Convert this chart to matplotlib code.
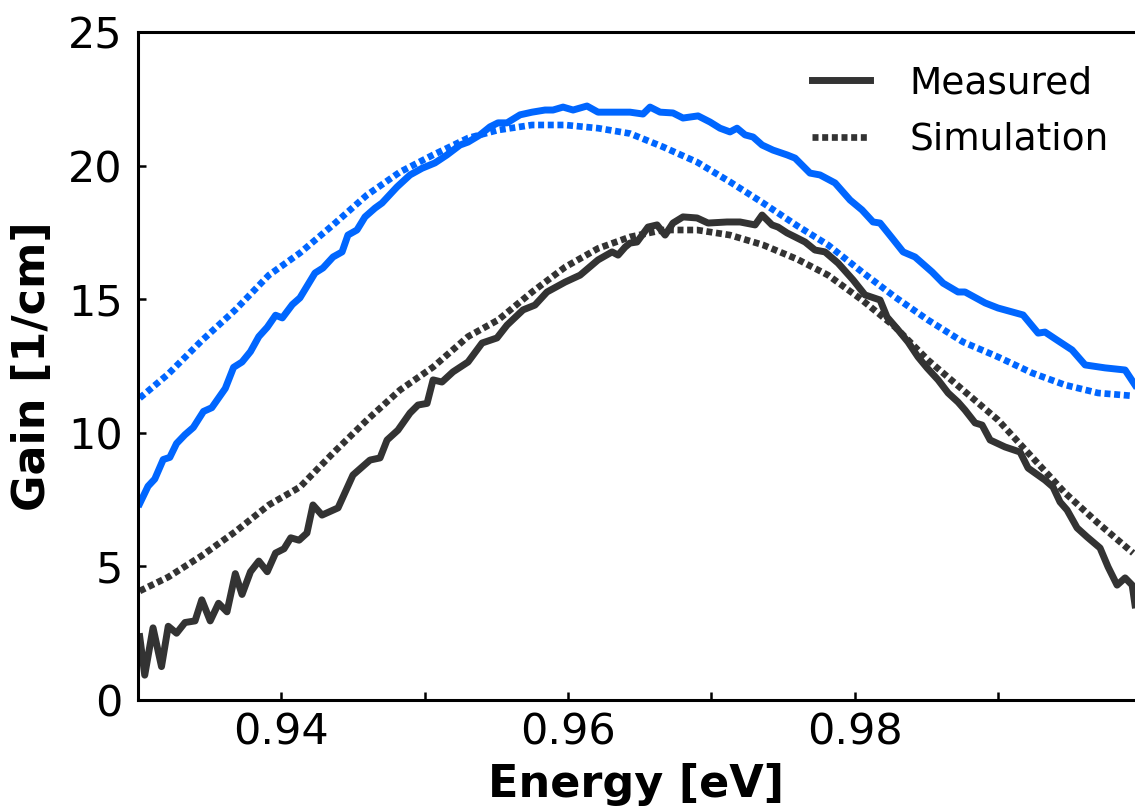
import matplotlib
matplotlib.use("Agg")
import matplotlib.pyplot as plt
from matplotlib.ticker import MultipleLocator

# colours
blue = "#0066ff"
dark = "#333333"

# measured gain, upper (blue) curve
e_meas_blue = [0.93012, 0.93070, 0.93117, 0.93176, 0.93222, 0.93269, 0.93328, 0.93386, 0.93457, 0.93515,
               0.93609, 0.93667, 0.93726, 0.93785, 0.93843, 0.93902, 0.93960, 0.94007, 0.94077, 0.94130,
               0.94235, 0.94291, 0.94361, 0.94424, 0.94465, 0.94528, 0.94584, 0.94654, 0.94703, 0.94807,
               0.94898, 0.94982, 0.95072, 0.95156, 0.95247, 0.95303, 0.95387, 0.95456, 0.95512, 0.95575,
               0.95666, 0.95750, 0.95840, 0.95896, 0.95966, 0.96036, 0.96133, 0.96210, 0.96329, 0.96433,
               0.96524, 0.96573, 0.96643, 0.96733, 0.96803, 0.96908, 0.96992, 0.97061, 0.97131, 0.97180,
               0.97236, 0.97292, 0.97355, 0.97431, 0.97529, 0.97585, 0.97689, 0.97759, 0.97864, 0.97969,
               0.98052, 0.98129, 0.98178, 0.98262, 0.98339, 0.98422, 0.98541, 0.98618, 0.98722, 0.98771,
               0.98911, 0.99001, 0.99176, 0.99281, 0.99329, 0.99413, 0.99518, 0.99609, 0.99748, 0.99888,
               0.99957]
g_meas_blue = [7.35, 8.0, 8.27, 9.0, 9.08, 9.6, 9.93, 10.2, 10.8, 10.94,
               11.66, 12.45, 12.65, 13.04, 13.6, 13.95, 14.4, 14.3, 14.8, 15.05,
               15.98, 16.17, 16.58, 16.77, 17.4, 17.59, 18.08, 18.41, 18.6, 19.2,
               19.65, 19.9, 20.1, 20.4, 20.77, 20.88, 21.15, 21.45, 21.6, 21.6,
               21.9, 22.0, 22.08, 22.08, 22.19, 22.08, 22.23, 22.0, 22.0, 22.0,
               21.93, 22.19, 22.0, 21.97, 21.78, 21.86, 21.63, 21.4, 21.26, 21.4,
               21.15, 21.07, 20.77, 20.58, 20.4, 20.28, 19.72, 19.65, 19.35, 18.71,
               18.34, 17.89, 17.85, 17.29, 16.77, 16.58, 16.02, 15.6, 15.27, 15.27,
               14.86, 14.67, 14.41, 13.73, 13.77, 13.47, 13.1, 12.54, 12.43, 12.35,
               11.79]

# measured gain, lower (dark) curve
e_meas_dark = [0.93012, 0.93047, 0.93105, 0.93164, 0.93211, 0.93269, 0.93328, 0.93398, 0.93445, 0.93504,
               0.93562, 0.93621, 0.93679, 0.93726, 0.93785, 0.93843, 0.93902, 0.93960, 0.94019, 0.94066,
               0.94124, 0.94179, 0.94221, 0.94284, 0.94396, 0.94500, 0.94619, 0.94689, 0.94738, 0.94814,
               0.94898, 0.94954, 0.95017, 0.95059, 0.95121, 0.95198, 0.95303, 0.95401, 0.95505, 0.95575,
               0.95687, 0.95770, 0.95854, 0.95980, 0.96085, 0.96210, 0.96308, 0.96350, 0.96399, 0.96433,
               0.96482, 0.96559, 0.96622, 0.96678, 0.96733, 0.96803, 0.96901, 0.96978, 0.97110, 0.97201,
               0.97306, 0.97355, 0.97424, 0.97466, 0.97529, 0.97585, 0.97655, 0.97724, 0.97794, 0.97885,
               0.97990, 0.98073, 0.98178, 0.98227, 0.98304, 0.98373, 0.98443, 0.98506, 0.98583, 0.98653,
               0.98722, 0.98771, 0.98841, 0.98890, 0.98946, 0.99050, 0.99155, 0.99211, 0.99329, 0.99385,
               0.99434, 0.99483, 0.99553, 0.99623, 0.99713, 0.99769, 0.99832, 0.99888, 0.99937, 0.99957]
g_meas_dark = [2.37, 0.93, 2.7, 1.25, 2.76, 2.5, 2.9, 2.96, 3.75, 2.96,
               3.62, 3.3, 4.73, 3.95, 4.8, 5.2, 4.8, 5.5, 5.66, 6.07,
               5.98, 6.25, 7.3, 6.92, 7.19, 8.42, 8.98, 9.06, 9.73, 10.1,
               10.74, 11.04, 11.1, 11.98, 11.9, 12.28, 12.65, 13.36, 13.55, 14.03,
               14.6, 14.78, 15.27, 15.64, 15.9, 16.47, 16.77, 16.65, 16.95, 17.1,
               17.14, 17.7, 17.78, 17.4, 17.85, 18.08, 18.04, 17.85, 17.89, 17.89,
               17.78, 18.15, 17.78, 17.7, 17.48, 17.33, 17.14, 16.84, 16.77, 16.35,
               15.72, 15.16, 14.97, 14.33, 13.85, 13.4, 12.84, 12.43, 11.98, 11.49,
               11.15, 10.85, 10.37, 10.29, 9.73, 9.47, 9.28, 8.68, 8.23, 7.97,
               7.41, 7.11, 6.44, 6.1, 5.69, 4.98, 4.3, 4.57, 4.3, 3.56]

# simulated gain
e_sim = [0.93012, 0.93211, 0.93445, 0.93679, 0.93913, 0.94130, 0.94361, 0.94598, 0.94828, 0.95059,
         0.95303, 0.95512, 0.95750, 0.95980, 0.96210, 0.96433, 0.96664, 0.96901, 0.97131, 0.97362,
         0.97599, 0.97815, 0.98052, 0.98283, 0.98513, 0.98757, 0.99001, 0.99239, 0.99469, 0.99699,
         0.99944]
g_sim_blue = [11.3, 12.2, 13.45, 14.6, 15.9, 16.73, 17.78, 18.9, 19.76, 20.4,
              21.03, 21.33, 21.52, 21.52, 21.4, 21.2, 20.7, 20.13, 19.39, 18.6,
              17.75, 17.03, 16.02, 15.08, 14.22, 13.4, 12.84, 12.24, 11.79, 11.49,
              11.38]
g_sim_dark = [4.08, 4.6, 5.4, 6.3, 7.3, 7.97, 9.24, 10.48, 11.6, 12.46,
              13.6, 14.22, 15.27, 16.2, 16.9, 17.33, 17.59, 17.59, 17.4, 17.03,
              16.5, 15.9, 14.97, 13.96, 12.72, 11.6, 10.48, 9.09, 7.75, 6.62,
              5.5]

plt.rcParams['font.family'] = 'DejaVu Sans'

fig = plt.figure(figsize=(11.35, 8.1), dpi=100)
ax = fig.add_axes([138 / 1135, 110 / 810, 997 / 1135, 668 / 810])

dots = (0, (0.9, 0.55))
ax.plot(e_meas_blue, g_meas_blue, color=blue, lw=5.0, solid_joinstyle='round')
ax.plot(e_sim, g_sim_blue, color=blue, lw=4.8, linestyle=dots)
ax.plot(e_meas_dark, g_meas_dark, color=dark, lw=5.0, solid_joinstyle='round', label='Measured')
ax.plot(e_sim, g_sim_dark, color=dark, lw=4.8, linestyle=dots, label='Simulation')

ax.set_xlim(0.93, 0.99957)
ax.set_ylim(0, 25)
ax.xaxis.set_minor_locator(MultipleLocator(0.01))
ax.yaxis.set_major_locator(MultipleLocator(5))
ax.set_xticks([0.94, 0.96, 0.98])
ax.set_xticklabels(['0.94', '0.96', '0.98'])
ax.tick_params(which='both', direction='in', length=6, width=1.8, labelsize=31,
               top=False, right=False)
ax.tick_params(axis='x', pad=8)
ax.tick_params(axis='y', pad=11)

for side in ['left', 'bottom', 'top']:
    ax.spines[side].set_linewidth(2.2)
ax.spines['right'].set_visible(False)

ax.set_xlabel('Energy [eV]', fontsize=32, fontweight='bold', labelpad=7)
ax.set_ylabel('Gain [1/cm]', fontsize=32, fontweight='bold', labelpad=10)

ax.legend(loc='upper left', bbox_to_anchor=(812 / 1135, 1 - 65 / 810),
          bbox_transform=fig.transFigure, frameon=False, fontsize=27,
          handlelength=1.55, handletextpad=1.04, labelspacing=0.55,
          borderpad=0, borderaxespad=0)

fig.savefig('out.png', dpi=100)
